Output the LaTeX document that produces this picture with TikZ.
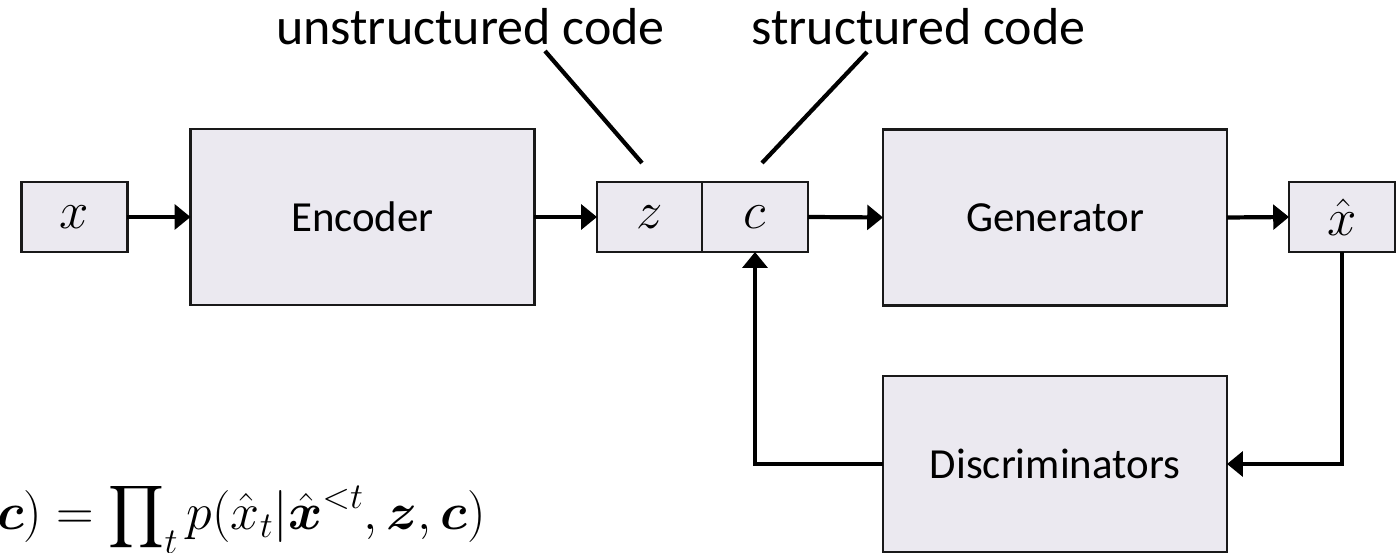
\documentclass[tikz,border=0pt]{standalone}
\usepackage{fix-cm}
\usepackage{amsmath}
\usepackage{bm}
\usepackage[no-math]{fontspec}
\setmainfont{Carlito}
\usetikzlibrary{arrows.meta}
\definecolor{boxfill}{RGB}{235,233,240}
\begin{document}
\begin{tikzpicture}[x=0.02cm,y=-0.02cm,
  block/.style={draw=black!90, line width=1.2pt, fill=boxfill, inner sep=0pt, outer sep=0pt},
  bigblock/.style={block, font=\fontsize{24.4}{29}\selectfont, minimum width=6.88cm, minimum height=3.52cm},
  varbox/.style={block, font=\fontsize{30}{34}\selectfont, minimum width=2.12cm, minimum height=1.4cm},
  flow/.style={line width=2.4pt, -{Triangle[length=9pt,width=14pt]}},
  leader/.style={line width=2.4pt},
  caption/.style={font=\fontsize{29.6}{35}\selectfont, inner sep=0pt, anchor=base}]
\useasboundingbox (0,0) rectangle (1396,553);
\fill[white] (0,0) rectangle (1396,553);
\clip (0,0) rectangle (1396,553);

% main pipeline
\node[varbox] (xin) at (74.5,217) {$x$};
\node[bigblock] (enc) at (362.5,217) {Encoder};
\node[varbox, minimum width=2.1cm] (zbox) at (649.5,217) {$z$};
\node[varbox] (cbox) at (755,217) {$c$};
\node[bigblock] (gen) at (1055,217.5) {Generator};
\node[varbox] (xhat) at (1342,217) {$\hat{x}$};
\node[bigblock] (disc) at (1055,464) {Discriminators};

\draw[flow] (xin.east) -- (enc.west);
\draw[flow] (enc.east) -- (zbox.west);
\draw[flow] (cbox.east) -- (gen.west);
\draw[flow] (gen.east) -- (xhat.west);
\draw[flow] (xhat.south) |- (disc.east);
\draw[flow] (disc.west) -| (cbox.south);

% code labels with leader lines
\node[caption] (ulabel) at (470.5,45) {unstructured code};
\node[caption] (slabel) at (918.5,45) {structured code};
\coordinate (ustart) at (545,51);
\coordinate (uend) at (642,163);
\coordinate (sstart) at (867,52);
\coordinate (send) at (762,163);
\draw[leader] (ustart) -- (uend);
\draw[leader] (sstart) -- (send);

% decoder factorisation
\node[font=\fontsize{29.6}{36}\selectfont, inner sep=0pt, anchor=base east] (formula) at (486,530)
  {$\displaystyle \bm{c}) = \prod\nolimits_t p(\hat{x}_t|\hat{\bm{x}}^{<t},\bm{z},\bm{c})$};
\end{tikzpicture}
\end{document}
